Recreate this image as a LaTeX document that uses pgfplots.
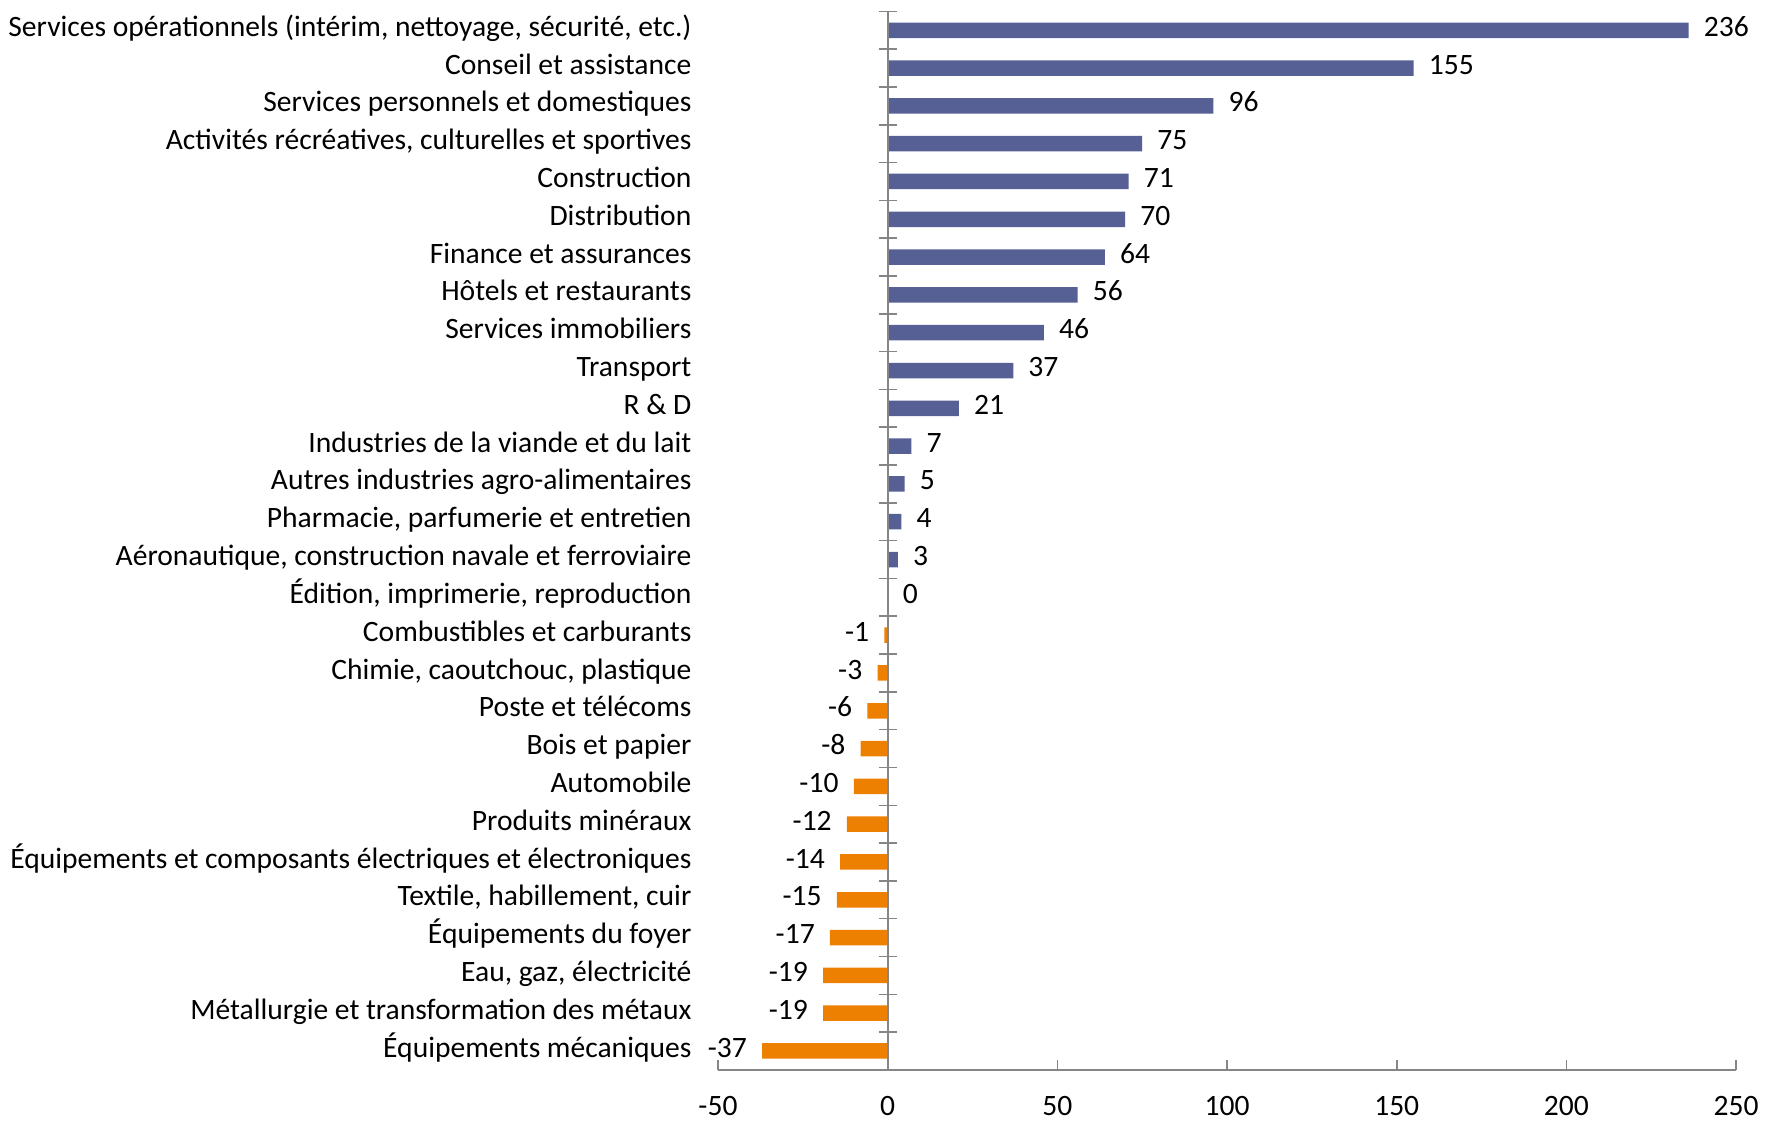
\documentclass[border=0pt]{standalone}
\usepackage{pgfplots}
\pgfplotsset{compat=1.18}
\usepackage{fontspec}
\setmainfont{Carlito}
\definecolor{barblue}{HTML}{566095}
\definecolor{barorange}{HTML}{EE8001}
\definecolor{axgray}{HTML}{868686}
\begin{document}
\begin{tikzpicture}
\begin{axis}[
  scale only axis,
  width=403pt, height=419pt,
  xbar, bar shift=0pt, bar width=0.41,
  xmin=-50, xmax=250, ymin=-0.5, ymax=27.5,
  y dir=reverse,
  xtick={-50,0,50,100,150,200,250},
  ytick={0,...,27},
  yticklabels={{Services opérationnels (intérim, nettoyage, sécurité, etc.)},{Conseil et assistance},{Services personnels et domestiques},{Activités récréatives, culturelles et sportives},{Construction},{Distribution},{Finance et assurances},{Hôtels et restaurants},{Services immobiliers},{Transport},{R \& D},{Industries de la viande et du lait},{Autres industries agro-alimentaires},{Pharmacie, parfumerie et entretien},{Aéronautique, construction navale et ferroviaire},{Édition, imprimerie, reproduction},{Combustibles et carburants},{Chimie, caoutchouc, plastique},{Poste et télécoms},{Bois et papier},{Automobile},{Produits minéraux},{Équipements et composants électriques et électroniques},{Textile, habillement, cuir},{Équipements du foyer},{Eau, gaz, électricité},{Métallurgie et transformation des métaux},{Équipements mécaniques}},
  axis x line*=bottom,
  axis y line*=left,
  y axis line style={draw=none},
  x axis line style={draw=axgray, line width=0.8pt, -},
  ytick style={draw=none},
  xtick style={draw=axgray, line width=0.6pt},
  tick align=inside,
  major tick length=4pt,
  tick label style={font=\fontsize{11.7}{14}\selectfont},
  /pgf/number format/assume math mode=true,
  xticklabel style={yshift=-7pt, text depth=0pt},
  yticklabel style={xshift=-7pt, anchor=east, text height=0.7em, text depth=0.22em},
  nodes near coords,
  point meta=x,
  nodes near coords style={font=\fontsize{11.7}{14}\selectfont, text height=0.7em, text depth=0.22em},
  clip=false,
]
\addplot[fill=barblue, draw=none, every node near coord/.append style={xshift=2.5pt}] coordinates {
(236,0) (155,1) (96,2) (75,3) (71,4) (70,5) (64,6) (56,7) (46,8) (37,9) (21,10) (7,11) (5,12) (4,13) (3,14) (0,15)
};
\addplot[fill=barorange, draw=none, every node near coord/.append style={xshift=-2.5pt}] coordinates {
(-1,16) (-3,17) (-6,18) (-8,19) (-10,20) (-12,21) (-14,22) (-15,23) (-17,24) (-19,25) (-19,26) (-37,27)
};
\draw[axgray, line width=0.8pt] (axis cs:0,-0.5) -- (axis cs:0,27.5);
\pgfplotsinvokeforeach{-0.5,0.5,...,27.5}{
  \draw[axgray, line width=0.6pt] ([xshift=-3.6pt]axis cs:0,#1) -- ([xshift=3.6pt]axis cs:0,#1);
}
\path ([yshift=4.5pt]axis cs:0,-0.5);
\end{axis}
\end{tikzpicture}
\end{document}
